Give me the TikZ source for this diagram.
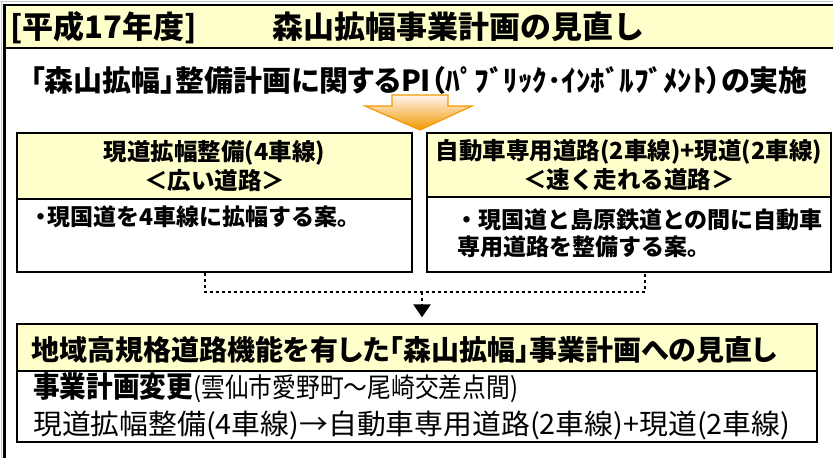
\documentclass[tikz,border=0pt]{standalone}
\usepackage{fontspec}
\setmainfont{Noto Sans CJK JP}
\usetikzlibrary{arrows.meta}
\definecolor{pale}{HTML}{FFFFCC}
\definecolor{orng}{HTML}{F39800}
\definecolor{peach}{HTML}{FFF4EC}
\newcommand{\propw}{\addfontfeatures{RawFeature=+palt}}
\begin{document}
\begin{tikzpicture}[x=1pt,y=-1pt,
  txt/.style={inner sep=0pt, anchor=west},
  hdr/.style={draw=black, line width=1.4pt, fill=pale, inner sep=0pt, align=center,
     font=\bfseries\fontsize{23.5}{29}\selectfont},
  bodybox/.style={draw=black, line width=1.4pt, fill=white, inner sep=0pt},
  dots/.style={line width=2.8pt, dash pattern=on 3pt off 3pt},
  frameline/.style={line width=2.5pt, black}
]
\useasboundingbox (0,0) rectangle (833,458);
\fill[white] (0,0) rectangle (833,458);
% outer frame and title band
\fill[pale] (4.5,5) rectangle (845,48);
\draw[gray!45, line width=1pt] (0,1.2) -- (845,1.2);
\draw[gray!45, line width=1pt] (1.2,1.2) -- (1.2,470);
\draw[frameline] (4.5,470) -- (4.5,5) -- (845,5);
\draw[frameline] (4.5,48) -- (845,48);
% title
\node[txt] (title) at (10,28) {\bfseries\fontsize{31}{31}\selectfont [平成17年度]\hspace{76pt}森山拡幅事業計画の見直し};
% subtitle
\node[txt] (sub) at (30,80) {\bfseries\fontsize{29}{29}\selectfont\propw 「森山拡幅」整備計画に関するPI（ﾊﾟﾌﾞﾘｯｸ･ｲﾝﾎﾞﾙﾌﾞﾒﾝﾄ）の実施};
% orange block arrow
\shade[top color=peach, bottom color=orng, draw=orng, line width=1.2pt, line join=miter]
  (392,95) -- (448,95) -- (448,106) -- (472,106) -- (420,130) -- (365,106) -- (392,106) -- cycle;
% left option
\node[hdr, minimum width=395pt, minimum height=66pt] (lh) at (214.5,166) {現道拡幅整備(4車線)\\＜広い道路＞};
\node[bodybox, minimum width=395pt, minimum height=73pt] (lb) at (214.5,235.5) {};
\node[txt] (lbt) at (29,217) {\bfseries\fontsize{23}{29}\selectfont ・\kern-5pt 現国道を4車線に拡幅する案。};
% right option
\node[hdr, minimum width=404pt, minimum height=64pt] (rh) at (629,165) {自動車専用道路(2車線)+現道(2車線)\\＜速く走れる道路＞};
\node[bodybox, minimum width=404pt, minimum height=75pt] (rb) at (629,234.5) {};
\node[txt] (rbt1) at (455,220) {\bfseries\fontsize{23}{29}\selectfont ・現国道と島原鉄道との間に自動車};
\node[txt] (rbt2) at (457,247) {\bfseries\fontsize{23}{29}\selectfont 専用道路を整備する案。};
% bottom result
\node[hdr, minimum width=800pt, minimum height=47pt] (bh) at (417,347.5) {};
\node[txt] (bht) at (31,350) {\bfseries\fontsize{28}{28}\selectfont\propw 地域高規格道路機能を有した「森山拡幅」事業計画への見直し};
\node[bodybox, minimum width=800pt, minimum height=71pt] (bb) at (417,406.5) {};
\node[txt] (bbt1) at (33,388) {{\bfseries\fontsize{29}{29}\selectfont\scalebox{0.92}[1]{事業計画変更}}{\fontsize{27}{27}\selectfont\scalebox{0.88}[1]{(雲仙市愛野町～尾崎交差点間)}}};
\node[txt] (bbt2) at (33,425) {\fontsize{28}{28}\selectfont\scalebox{1.03}[1]{現道拡幅整備(4車線)→自動車専用道路(2車線)+現道(2車線)}};
% dotted connectors
\coordinate (lj) at (205,292);
\coordinate (rj) at (645,292);
\coordinate (mj) at (422,292);
\draw[dots] (lb.south -| lj) -- (lj) -- (rj) -- (rb.south -| rj);
\draw[dots, shorten >=6pt, -{Triangle[width=17pt,length=13pt]}] (mj) -- (bh.north -| mj);
\end{tikzpicture}
\end{document}
